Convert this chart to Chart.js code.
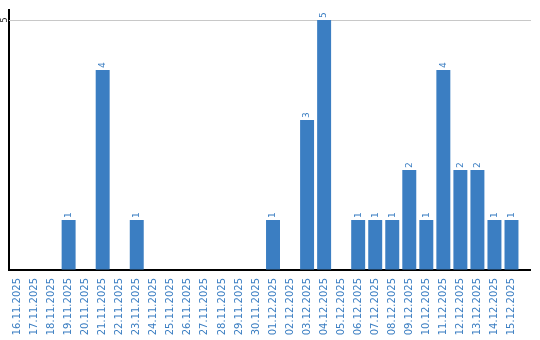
<!DOCTYPE html>
<html><head><meta charset="utf-8">
<script src="https://cdn.jsdelivr.net/npm/chart.js@4/dist/chart.umd.min.js"></script>
<style>html,body{margin:0;padding:0;background:#fff}#wrap{width:540px;height:340px}</style>
</head><body><div id="wrap"><canvas id="c"></canvas></div>
<script>
const categories = ["16.11.2025","17.11.2025","18.11.2025","19.11.2025","20.11.2025","21.11.2025","22.11.2025","23.11.2025","24.11.2025","25.11.2025","26.11.2025","27.11.2025","28.11.2025","29.11.2025","30.11.2025","01.12.2025","02.12.2025","03.12.2025","04.12.2025","05.12.2025","06.12.2025","07.12.2025","08.12.2025","09.12.2025","10.12.2025","11.12.2025","12.12.2025","13.12.2025","14.12.2025","15.12.2025"];
const values = [0,0,0,1,0,4,0,1,0,0,0,0,0,0,0,1,0,3,5,0,1,1,1,2,1,4,2,2,1,1];
const yTicks = [5];

const FONT = "'DejaVu Sans', sans-serif";
const BLUE = '#3b7ec2';
const EXT = 11;

const under = {
  id: 'under',
  beforeDatasetsDraw(chart) {
    const ctx = chart.ctx, a = chart.chartArea, ys = chart.scales.y;
    ctx.save();
    ctx.strokeStyle = '#c8c8c8';
    ctx.lineWidth = 1;
    yTicks.forEach(t => {
      const y = Math.round(ys.getPixelForValue(t)) + 0.5;
      ctx.beginPath(); ctx.moveTo(a.left, y); ctx.lineTo(a.right + EXT, y); ctx.stroke();
    });
    ctx.restore();
  }
};

const overlay = {
  id: 'overlay',
  afterDatasetsDraw(chart) {
    const ctx = chart.ctx, a = chart.chartArea;
    const meta = chart.getDatasetMeta(0);
    ctx.save();
    ctx.fillStyle = BLUE;
    ctx.font = '9px ' + FONT;
    ctx.textAlign = 'left';
    ctx.textBaseline = 'middle';
    meta.data.forEach((bar, i) => {
      const v = values[i];
      if (!v) return;
      ctx.save();
      ctx.translate(bar.x, bar.y - 2);
      ctx.rotate(-Math.PI / 2);
      ctx.fillText(String(v), 0, 0);
      ctx.restore();
    });
    const ys = chart.scales.y;
    ctx.fillStyle = '#222';
    ctx.font = '8px ' + FONT;
    ctx.textAlign = 'center';
    yTicks.forEach(t => {
      ctx.save();
      ctx.translate(5, ys.getPixelForValue(t));
      ctx.rotate(-Math.PI / 2);
      ctx.fillText(String(t), 0, 0);
      ctx.restore();
    });
    // extend bottom axis line
    ctx.fillStyle = '#000';
    ctx.fillRect(a.right - 1, a.bottom - 1, EXT + 1, 2);
    ctx.restore();
  }
};

new Chart(document.getElementById('c'), {
  type: 'bar',
  data: {
    labels: categories,
    datasets: [{
      data: values,
      backgroundColor: BLUE,
      barPercentage: 0.82,
      categoryPercentage: 1.0
    }]
  },
  options: {
    responsive: true,
    maintainAspectRatio: false,
    animation: false,
    layout: { padding: { top: 10, right: 20, left: 0, bottom: 0 } },
    plugins: { legend: { display: false }, tooltip: { enabled: false } },
    scales: {
      x: {
        grid: { display: true, color: 'transparent', drawTicks: false },
        border: { display: true, color: '#000', width: 2 },
        ticks: {
          color: BLUE,
          font: { family: FONT, size: 10 },
          minRotation: 90, maxRotation: 90,
          autoSkip: false,
          padding: 8
        },
        afterFit(s) { s.height = 70; }
      },
      y: {
        min: 0, max: 5.2,
        grid: { display: true, color: 'transparent', drawTicks: false },
        border: { display: true, color: '#000', width: 2 },
        ticks: { display: false, stepSize: 5 },
        afterFit(s) { s.width = 9; }
      }
    }
  },
  plugins: [under, overlay]
});
</script>
</body></html>
